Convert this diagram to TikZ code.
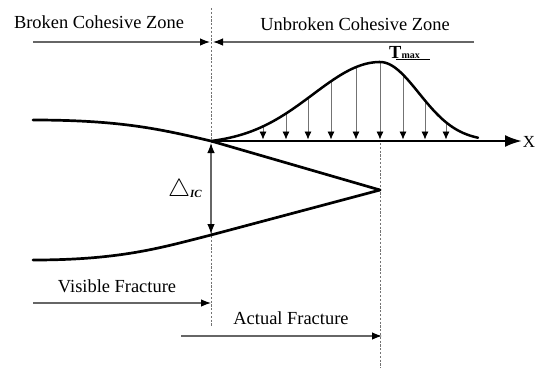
\documentclass[tikz,border=0pt]{standalone}
\usepackage{fontspec}
\setmainfont{Liberation Serif}
\usetikzlibrary{arrows.meta}
\begin{document}
\begin{tikzpicture}[x=1bp,y=-1bp,
  lbl/.style={font=\fontsize{18.5}{20}\selectfont, inner sep=0pt},
  dim/.style={draw=black!60, line width=1.2bp, -{Latex[length=10bp,width=7.5bp,black]}},
  guide/.style={draw=black!55, line width=0.8bp, dash pattern=on 2.2bp off 1.6bp},
  face/.style={line width=2.7bp, line cap=round},
  coh/.style={line width=2.5bp, line cap=round},
  load/.style={draw=black!55, line width=0.8bp, -{Latex[length=8bp,width=7bp,black]}},
  declare function={
    ul(\x)=(\x-380)/95;
    ur(\x)=(\x-380)/55;
    cl(\x)=141-79*(exp(-ul(\x)*ul(\x))-0.0423)/0.9577;
    cr(\x)=141-79*exp(-ur(\x)*ur(\x));
  }]
\useasboundingbox (0,0) rectangle (538,368);
% key points
\coordinate (J) at (211,141);
\coordinate (tip) at (380,190);
\coordinate (lowJ) at (211,235);
\coordinate (upL) at (33,120);
\coordinate (lowL) at (33,260);
\coordinate (axEnd) at (522,141);
\coordinate (g1top) at (211,8);
\coordinate (g1bot) at (211,327);
\coordinate (g2top) at (380,143);
\coordinate (g2bot) at (380,368);
\coordinate (bzL) at (33,42);
\coordinate (bzR) at (210,42);
\coordinate (ubzR) at (474,42);
\coordinate (ubzL) at (213,42);
\coordinate (vfL) at (33,303);
\coordinate (vfR) at (211,303);
\coordinate (afL) at (181,336);
\coordinate (afR) at (382,336);
\coordinate (dTop) at (211,143);
\coordinate (dBot) at (211,234);
% guides
\draw[guide] (g1top) -- (g1bot);
\draw[guide] (g2top) -- (g2bot);
% texts
\node[lbl] (broken) at (99,22) {Broken Cohesive Zone};
\node[lbl] (unbroken) at (355,24) {Unbroken Cohesive Zone};
\node[lbl] (visible) at (117,286) {Visible Fracture};
\node[lbl] (actual) at (291,318) {Actual Fracture};
\node[lbl, anchor=base west] (tmax) at (389,58) {\textbf{T}\raisebox{-0.5bp}{\fontsize{10}{10}\selectfont\textbf{max}}};
\draw[line width=0.8bp] (tmax.base west) ++(7,1.8) -- ++(34,0);
\node[lbl, font=\fontsize{17}{18}\selectfont] (xlab) at (529,142) {X};
\node[lbl] (delta) at (185,190) {\fontsize{24}{24}\selectfont$\triangle$\raisebox{-1bp}{\fontsize{11}{11}\selectfont\textbf{\textit{IC}}}};
% zone arrows
\draw[dim] (bzL) -- (bzR);
\draw[dim] (ubzR) -- (ubzL);
\draw[dim] (vfL) -- (vfR);
\draw[dim] (afL) -- (afR);
\draw[dim, {Latex[length=10bp,width=7.5bp,black]}-{Latex[length=10bp,width=7.5bp,black]}] (dTop) -- (dBot);
% crack faces
\draw[face] (upL) .. controls (120,120) and (160,129) .. (J) -- (tip);
\draw[face] (lowL) .. controls (120,260) and (160,248) .. (lowJ) -- (tip);
% load arrows
\foreach \xx in {263,286,308,331,356,380} {
  \draw[load] (\xx,{cl(\xx)}) -- (\xx,139.5);
}
\foreach \xx in {403,425,446} {
  \draw[load] (\xx,{cr(\xx)}) -- (\xx,139.5);
}
% cohesive curve
\draw[coh] plot[domain=211:380, samples=60, smooth] (\x,{cl(\x)})
  -- plot[domain=380:478, samples=40, smooth] (\x,{cr(\x)});
% axis
\draw[line width=2.4bp, -{Latex[length=17bp,width=12bp]}] (J) -- (axEnd);
\end{tikzpicture}
\end{document}
